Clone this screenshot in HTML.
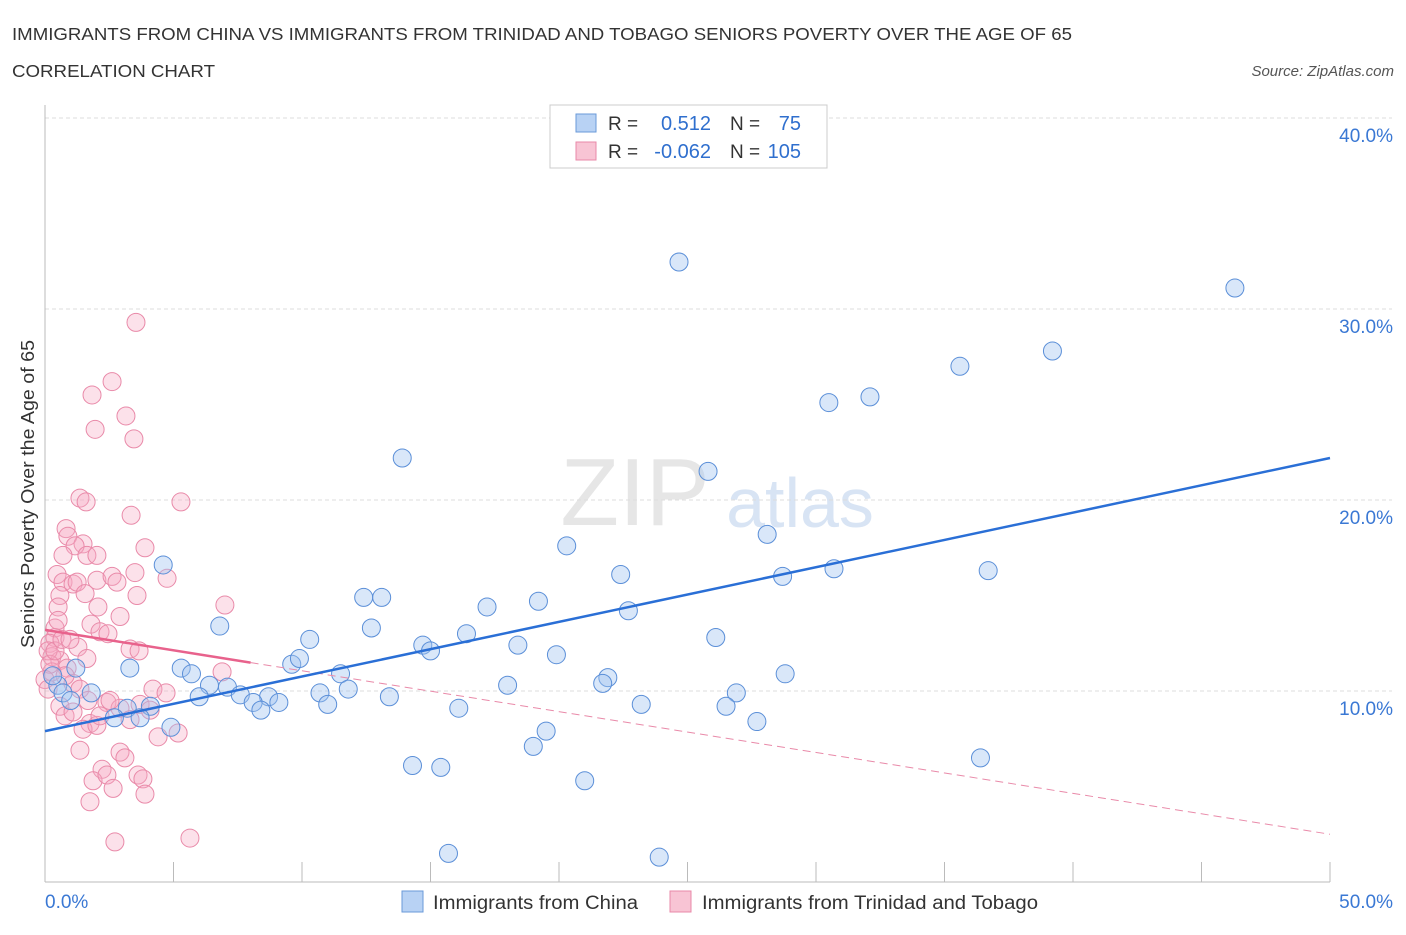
<!DOCTYPE html>
<html><head><meta charset="utf-8">
<style>
body{margin:0;background:#fff;font-family:"Liberation Sans",sans-serif;}
svg text{font-family:"Liberation Sans",sans-serif;}
</style></head>
<body>
<svg id="chart" width="1406" height="930" viewBox="0 0 1406 930" xmlns="http://www.w3.org/2000/svg">
<text x="12" y="40" font-size="17.5" fill="#333" textLength="1060" lengthAdjust="spacingAndGlyphs">IMMIGRANTS FROM CHINA VS IMMIGRANTS FROM TRINIDAD AND TOBAGO SENIORS POVERTY OVER THE AGE OF 65</text>
<text x="12" y="77" font-size="17.5" fill="#333" textLength="203" lengthAdjust="spacingAndGlyphs">CORRELATION CHART</text>
<text x="1394" y="76" font-size="15" fill="#555" text-anchor="end" font-style="italic">Source: ZipAtlas.com</text>
<g>
<text x="635" y="525" font-size="96" fill="#e6e6e6" text-anchor="middle" font-family="Liberation Serif">ZIP</text>
<text x="800" y="527" font-size="70" fill="#d8e4f4" text-anchor="middle">atlas</text>
</g>
<g id="grid"></g>
<g id="axes"></g>
<g id="marks"></g>
<g id="lines"></g>
<g>
<rect x="550" y="105" width="277" height="63" fill="#fff" stroke="#ccc"/>
<rect x="576" y="114" width="20" height="18" fill="#b8d2f4" stroke="#6a9ad8"/>
<text x="608" y="130" font-size="19" fill="#333">R =</text>
<text x="711" y="130" font-size="20" fill="#2f6fce" text-anchor="end">0.512</text>
<text x="730" y="130" font-size="19" fill="#333">N =</text>
<text x="801" y="130" font-size="20" fill="#2f6fce" text-anchor="end">75</text>
<rect x="576" y="142" width="20" height="18" fill="#f8c4d4" stroke="#e889a8"/>
<text x="608" y="158" font-size="19" fill="#333">R =</text>
<text x="711" y="158" font-size="20" fill="#2f6fce" text-anchor="end">-0.062</text>
<text x="730" y="158" font-size="19" fill="#333">N =</text>
<text x="801" y="158" font-size="20" fill="#2f6fce" text-anchor="end">105</text>
</g>
<g>
<rect x="402" y="891" width="21" height="21" fill="#b8d2f4" stroke="#6a9ad8"/>
<text x="433" y="909" font-size="19" fill="#333" textLength="205" lengthAdjust="spacingAndGlyphs">Immigrants from China</text>
<rect x="670" y="891" width="21" height="21" fill="#f8c4d4" stroke="#e889a8"/>
<text x="702" y="909" font-size="19" fill="#333" textLength="336" lengthAdjust="spacingAndGlyphs">Immigrants from Trinidad and Tobago</text>
</g>
<text transform="translate(34,494) rotate(-90)" font-size="18" fill="#333" text-anchor="middle" textLength="308" lengthAdjust="spacingAndGlyphs">Seniors Poverty Over the Age of 65</text>
</svg>
<script>
const chinaX=[24.67,46.3,39.2,35.6,32.1,30.5,13.9,25.8,28.1,20.3,4.6,22.4,28.7,30.7,36.7,12.4,13.1,19.2,17.2,22.7,6.8,12.7,16.4,10.3,26.1,18.4,14.7,15.0,19.9,3.3,5.3,9.6,9.9,5.7,11.5,28.8,21.9,21.7,6.4,18.0,11.8,7.1,6.0,10.7,13.4,26.9,7.6,8.7,1.8,8.1,9.1,11.0,23.2,26.5,16.1,8.4,4.1,3.2,2.7,3.7,27.7,4.9,19.5,19.0,36.4,14.3,15.4,21.0,15.7,23.9,0.5,0.7,1.0,1.2,0.3];
const chinaY=[32.46,31.1,27.8,27.0,25.4,25.1,22.2,21.5,18.2,17.6,16.6,16.1,16.0,16.4,16.3,14.9,14.9,14.7,14.4,14.2,13.4,13.3,13.0,12.7,12.8,12.4,12.4,12.1,11.9,11.2,11.2,11.4,11.7,10.9,10.9,10.9,10.7,10.4,10.3,10.3,10.1,10.2,9.7,9.9,9.7,9.9,9.8,9.7,9.9,9.4,9.4,9.3,9.3,9.2,9.1,9.0,9.2,9.1,8.6,8.6,8.4,8.1,7.9,7.1,6.5,6.1,6.0,5.3,1.5,1.3,10.3,9.9,9.5,11.2,10.8];
const trinX=[3.54,2.61,1.83,3.15,1.95,3.46,1.36,1.6,5.29,3.35,0.82,0.89,3.89,1.48,1.17,1.63,2.02,0.70,0.47,0.70,1.09,2.02,2.61,2.8,3.5,4.75,1.25,1.56,0.58,0.51,3.58,2.06,2.92,1.79,2.14,2.45,0.39,0.39,7.0,1.28,1.63,3.31,3.66,0.19,0.27,0.58,0.86,6.89,0.27,1.09,4.2,4.71,0.58,2.41,2.92,0.78,1.09,1.75,1.48,3.31,2.02,4.4,5.18,1.36,2.92,3.11,2.22,1.87,2.41,2.65,3.62,3.81,3.89,1.75,2.72,5.64,0.12,0.19,0.0,0.39,0.66,0.12,0.51,0.97,0.78,1.36,1.67,2.53,3.7,2.14,4.09];
const trinY=[29.3,26.2,25.5,24.4,23.7,23.2,20.1,19.9,19.9,19.2,18.5,18.1,17.5,17.7,17.6,17.1,17.1,17.1,16.1,15.7,15.6,15.8,16.0,15.7,16.2,15.9,15.7,15.1,15.0,14.4,15.0,14.4,13.9,13.5,13.1,13.0,13.3,12.8,14.5,12.3,11.7,12.2,12.1,12.5,11.8,11.6,11.2,11.0,11.0,10.4,10.1,9.9,9.2,9.4,9.1,8.7,8.9,8.3,8.0,8.5,8.2,7.6,7.8,6.9,6.8,6.5,5.9,5.3,5.6,4.9,5.6,5.4,4.6,4.2,2.1,2.3,12.1,11.4,10.6,12.1,12.7,10.1,13.7,12.7,10.8,10.1,9.5,9.5,9.3,8.7,9.0];
const yTicks=[10,20,30,40];
const yTickLabels=["10.0%","20.0%","30.0%","40.0%"];
const xTicks=[0,5,10,15,20,25,30,35,40,45,50];
const chinaTrend=[7.9,22.2];   // y at x=0 and x=50
const trinTrend=[13.2,2.5];    // y at x=0 and x=50
const trinSolidEnd=8;

const NS="http://www.w3.org/2000/svg";
const sx=v=>45+v/50*1285;
const sy=v=>882-v/10*191;
function mk(tag,attrs,parent){const e=document.createElementNS(NS,tag);for(const k in attrs)e.setAttribute(k,attrs[k]);parent.appendChild(e);return e;}
const grid=document.getElementById('grid'),axes=document.getElementById('axes'),marks=document.getElementById('marks'),lines=document.getElementById('lines');
yTicks.forEach((t,i)=>{
  const l=mk('line',{x1:45,x2:1392,y1:sy(t),y2:sy(t),stroke:'#ddd','stroke-dasharray':'4,3'},grid);
  
  
  const tx=mk('text',{x:1393,y:sy(t)+24,'font-size':19,fill:'#3a78d4','text-anchor':'end'},axes);
  tx.textContent=yTickLabels[i];
  
  
});
const ax=mk('line',{x1:45,x2:1330,y1:882,y2:882,stroke:'#bbb'},axes);


const ay=mk('line',{x1:45,x2:45,y1:105,y2:882,stroke:'#bbb'},axes);


xTicks.forEach(t=>{
  const l=mk('line',{x1:sx(t),x2:sx(t),y1:862,y2:882,stroke:'#bbb'},axes);
  
  
});
const x0=mk('text',{x:45,y:908,'font-size':19,fill:'#3a78d4'},axes);x0.textContent='0.0%';


const x1=mk('text',{x:1393,y:908,'font-size':19,fill:'#3a78d4','text-anchor':'end'},axes);x1.textContent='50.0%';


trinX.forEach((v,i)=>{
  const c=mk('circle',{cx:sx(v),cy:sy(trinY[i]),r:9,fill:'rgba(246,170,196,0.35)',stroke:'#e98aa9','stroke-width':1},marks);
  
  
});
chinaX.forEach((v,i)=>{
  const c=mk('circle',{cx:sx(v),cy:sy(chinaY[i]),r:9,fill:'rgba(160,196,240,0.4)',stroke:'#5b8fd8','stroke-width':1},marks);
  
  
});
const tAt=x=>trinTrend[0]+(trinTrend[1]-trinTrend[0])*x/50;
const td=mk('line',{x1:sx(trinSolidEnd),y1:sy(tAt(trinSolidEnd)),x2:sx(50),y2:sy(tAt(50)),stroke:'#e98aa9','stroke-width':1,'stroke-dasharray':'8,5'},lines);


const ts=mk('line',{x1:sx(0),y1:sy(tAt(0)),x2:sx(trinSolidEnd),y2:sy(tAt(trinSolidEnd)),stroke:'#e8628c','stroke-width':2.5},lines);


const cl=mk('line',{x1:sx(0),y1:sy(chinaTrend[0]),x2:sx(50),y2:sy(chinaTrend[1]),stroke:'#2a6fd6','stroke-width':2.5},lines);


</script>
</body></html>
